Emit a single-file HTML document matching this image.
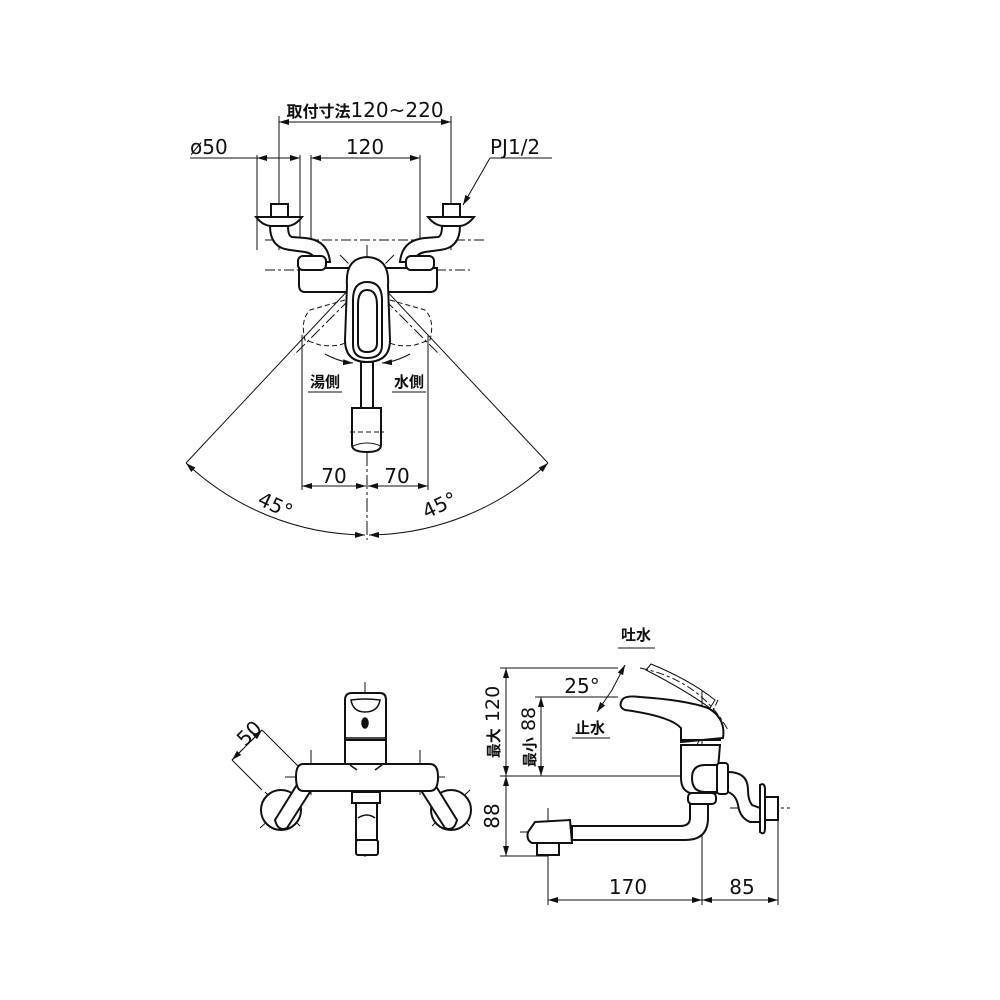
<!DOCTYPE html>
<html><head><meta charset="utf-8"><style>
html,body{margin:0;padding:0;background:#fff}
svg{display:block}
text{font-family:"DejaVu Sans","Liberation Sans","Noto Sans CJK JP",sans-serif;fill:#111}
</style></head><body>
<svg width="1000" height="1000" viewBox="0 0 1000 1000" xmlns="http://www.w3.org/2000/svg">
<defs>
<marker id="a" viewBox="0 0 10 6" refX="10" refY="3" markerWidth="10" markerHeight="6" orient="auto-start-reverse" markerUnits="userSpaceOnUse"><path d="M0,0 L10,3 L0,6z" fill="#111"/></marker>
</defs>
<g stroke="#111" stroke-width="1" fill="none">
<line x1="279" y1="122" x2="451" y2="122" marker-start="url(#a)" marker-end="url(#a)"/>
<line x1="279" y1="116" x2="279" y2="250"/>
<line x1="451" y1="116" x2="451" y2="250"/>
<line x1="190" y1="158" x2="300" y2="158"/>
<line x1="257" y1="158" x2="279" y2="158" marker-start="url(#a)"/>
<line x1="279" y1="158" x2="300" y2="158" marker-end="url(#a)"/>
<line x1="257" y1="155" x2="257" y2="250"/>
<line x1="300" y1="155" x2="300" y2="250"/>
<line x1="311" y1="158" x2="420" y2="158" marker-start="url(#a)" marker-end="url(#a)"/>
<line x1="311" y1="155" x2="311" y2="290"/>
<line x1="420" y1="155" x2="420" y2="290"/>
<line x1="490" y1="158" x2="552" y2="158"/>
<line x1="490" y1="158" x2="463" y2="205" marker-end="url(#a)"/>
<line x1="367" y1="245" x2="367" y2="540" stroke-dasharray="14,3,3,3"/>
<line x1="265" y1="240" x2="485" y2="240" stroke-dasharray="10,3,3,3"/>
<line x1="265" y1="270" x2="470" y2="270" stroke-dasharray="10,3,3,3"/>
<line x1="340" y1="255" x2="440" y2="355" stroke-dasharray="12,3,3,3"/>
<line x1="394" y1="255" x2="294" y2="355" stroke-dasharray="12,3,3,3"/>
<line x1="367" y1="270" x2="186" y2="463"/>
<line x1="367" y1="270" x2="548" y2="463"/>
<path d="M186,463 A265,265 0 0 0 365,535" marker-start="url(#a)" marker-end="url(#a)"/>
<path d="M548,463 A265,265 0 0 1 369,535" marker-start="url(#a)" marker-end="url(#a)"/>
<line x1="302" y1="335" x2="302" y2="490"/>
<line x1="428" y1="335" x2="428" y2="490"/>
<line x1="302" y1="486" x2="366" y2="486" marker-start="url(#a)" marker-end="url(#a)"/>
<line x1="368" y1="486" x2="428" y2="486" marker-start="url(#a)" marker-end="url(#a)"/>
<line x1="308" y1="392" x2="342" y2="392"/>
<line x1="392" y1="392" x2="426" y2="392"/>
<path d="M325,354 Q340,362 353,363" marker-end="url(#a)"/>
<path d="M410,354 Q395,362 382,363" marker-end="url(#a)"/>
<path d="M345,300 L310,310 Q300,320 305,340 L320,345 Q340,348 350,340" stroke-dasharray="5,3"/>
<path d="M390,300 L425,310 Q435,320 430,340 L415,345 Q395,348 385,340" stroke-dasharray="5,3"/>
</g>
<g stroke="#111" stroke-width="2" fill="#fff">
<path d="M256,217 L302,217 Q295,226 287,226 L272,226 Q263,226 256,217z"/>
<rect x="271" y="204" width="17" height="13"/>
<path d="M428,217 L474,217 Q467,226 459,226 L444,226 Q435,226 428,217z"/>
<rect x="443" y="204" width="17" height="13"/>
<path d="M270,226 Q270,248 290,250 L305,252 Q315,254 316,262 L330,262 Q328,240 305,238 L292,237 Q288,236 288,226z"/>
<path d="M460,226 Q460,248 440,250 L425,252 Q415,254 414,262 L400,262 Q402,240 425,238 L438,237 Q442,236 442,226z"/>
<path d="M299,268 L437,268 L437,285 Q437,292 430,292 L305,292 Q299,292 299,285z"/>
<rect x="298" y="256" width="28" height="14" rx="5"/>
<rect x="406" y="256" width="28" height="14" rx="5"/>
<path d="M347,285 Q345,258 367,257 Q390,258 388,285 L390,340 Q390,362 367,362 Q345,362 345,340z"/>
<path d="M353,300 Q353,282 367,282 Q382,282 382,300 L382,345 Q382,358 367,358 Q353,358 353,345z"/>
<path d="M358,305 Q358,290 367,290 Q377,290 377,305 L377,343 Q377,352 367,352 Q358,352 358,343z"/>
<rect x="361" y="362" width="12" height="46"/>
<path d="M352,408 L381,408 L381,445 Q381,452 367,452 Q352,452 352,445z"/>
</g>
<g stroke="#111" stroke-width="1" fill="none">
<line x1="350" y1="432" x2="384" y2="432" stroke-dasharray="5,3"/>
<path d="M353,446 Q367,440 381,446"/>
</g>
<g>
<text x="365" y="117" text-anchor="middle" font-size="16" font-weight="bold">取付寸法<tspan font-weight="normal" font-size="20">120~220</tspan></text>
<text x="190" y="154" font-size="20">ø50</text>
<text x="365" y="154" text-anchor="middle" font-size="20">120</text>
<text x="490" y="154" font-size="20">PJ1/2</text>
<text x="325" y="387" text-anchor="middle" font-size="15" font-weight="bold">湯側</text>
<text x="409" y="387" text-anchor="middle" font-size="15" font-weight="bold">水側</text>
<text x="334" y="483" text-anchor="middle" font-size="20">70</text>
<text x="397" y="483" text-anchor="middle" font-size="20">70</text>
<text x="275" y="512" text-anchor="middle" font-size="20" transform="rotate(25 275 506)">45°</text>
<text x="440" y="512" text-anchor="middle" font-size="20" transform="rotate(-25 440 506)">45°</text>
</g>

<!-- FRONT VIEW -->
<g stroke="#111" stroke-width="1" fill="none">
<line x1="365" y1="682" x2="365" y2="860" stroke-dasharray="14,3,3,3"/>
<line x1="285" y1="777" x2="445" y2="777" stroke-dasharray="10,3,3,3"/>
<line x1="311" y1="750" x2="311" y2="795"/>
<line x1="420" y1="750" x2="420" y2="795"/>
<line x1="265" y1="792" x2="300" y2="826"/>
<line x1="260" y1="828" x2="302" y2="790"/>
<line x1="435" y1="792" x2="470" y2="826"/>
<line x1="432" y1="826" x2="470" y2="790"/>
<line x1="262" y1="730" x2="300" y2="768"/>
<line x1="232" y1="760" x2="262" y2="790"/>
<line x1="262" y1="730" x2="232" y2="760"/>
<line x1="251" y1="741" x2="262" y2="730" marker-end="url(#a)"/>
<line x1="243" y1="749" x2="232" y2="760" marker-end="url(#a)"/>
</g>
<g stroke="#111" stroke-width="2" fill="#fff">
<circle cx="281" cy="810" r="20"/>
<circle cx="451" cy="810" r="20"/>
<path d="M275,820 L298,783 L310,792 L287,828 Q278,832 275,820z"/>
<path d="M457,820 L434,783 L422,792 L445,828 Q454,832 457,820z"/>
<path d="M345,765 L345,740 L386,740 L386,765z"/>
<path d="M345,740 L345,700 Q345,693 352,693 L380,693 Q386,693 386,700 L386,740z"/>
<path d="M303,764 L430,764 Q438,764 438,777 Q438,791 430,791 L303,791 Q296,791 296,777 Q296,764 303,764z"/>
<rect x="352" y="792" width="28" height="11"/>
<path d="M356,803 L377,803 L377,840 L356,840z"/>
<rect x="356" y="840" width="22" height="15" rx="2"/>
</g>
<g stroke="#111" stroke-width="1.5" fill="none">
<line x1="345" y1="738" x2="386" y2="738"/>
<path d="M351,700 Q365,698 380,700 Q378,712 365,712 Q353,712 351,700z"/>
<ellipse cx="365" cy="723" rx="3" ry="5" fill="#111"/>
<path d="M357,770 L350,765 M375,770 L382,765"/>
<path d="M358,818 Q367,812 375,818"/>
</g>
<text x="243" y="748" font-size="20" transform="rotate(-45 243 745)">50</text>

<!-- SIDE VIEW -->
<g stroke="#111" stroke-width="1" fill="none">
<line x1="500" y1="668" x2="618" y2="668"/>
<line x1="535" y1="697" x2="618" y2="697"/>
<line x1="500" y1="776" x2="735" y2="776"/>
<line x1="500" y1="856" x2="548" y2="856"/>
<line x1="506" y1="668" x2="506" y2="776" marker-start="url(#a)" marker-end="url(#a)"/>
<line x1="506" y1="776" x2="506" y2="856" marker-start="url(#a)" marker-end="url(#a)"/>
<line x1="541" y1="697" x2="541" y2="776" marker-start="url(#a)" marker-end="url(#a)"/>
<line x1="548" y1="808" x2="548" y2="905"/>
<line x1="702" y1="690" x2="702" y2="905"/>
<line x1="778" y1="805" x2="778" y2="905"/>
<line x1="548" y1="900" x2="702" y2="900" marker-start="url(#a)" marker-end="url(#a)"/>
<line x1="702" y1="900" x2="778" y2="900" marker-start="url(#a)" marker-end="url(#a)"/>
<line x1="618" y1="648" x2="655" y2="648"/>
<line x1="572" y1="738" x2="610" y2="738"/>
<line x1="612" y1="690" x2="625" y2="665" marker-end="url(#a)"/>
<line x1="612" y1="690" x2="597" y2="712" marker-end="url(#a)"/>
<line x1="520" y1="832" x2="580" y2="832" stroke-dasharray="10,3,3,3"/>
<line x1="730" y1="808" x2="790" y2="808" stroke-dasharray="10,3,3,3"/>
<path d="M646,670 L651,664 Q690,680 715,700 L710,708 Q685,690 646,670z"/>
<path d="M640,668 Q700,680 728,730" stroke-dasharray="8,3,3,3"/>
<line x1="718" y1="700" x2="690" y2="760" stroke-dasharray="6,3"/>
</g>
<g stroke="#111" stroke-width="2" fill="#fff">
<path d="M681,745 L681,778 Q681,790 690,793 L716,793 L720,745z"/>
<path d="M622,700 Q625,695 640,697 Q685,700 708,708 Q726,718 723,738 L681,742 L681,728 Q670,716 625,710 Q618,707 622,700z"/>
<line x1="681" y1="740" x2="721" y2="740"/>
<path d="M728,772 Q748,772 748,790 Q748,800 752,805 L760,808 L760,822 L750,822 Q740,818 738,805 Q736,795 728,792z"/>
<path d="M760,785 Q765,782 765,790 L765,828 Q765,836 760,832z"/>
<rect x="765" y="797" width="13" height="23"/>
<path d="M692,778 Q692,765 705,765 L718,765 L718,792 L705,792 Q692,792 692,778z"/>
<rect x="717" y="763" width="11" height="31" rx="3"/>
<rect x="688" y="793" width="28" height="11" rx="4"/>
<path d="M690,804 L690,818 Q690,826 680,826 L572,826 L572,840 L685,840 Q708,840 708,818 L708,804z"/>
<path d="M535,822 L570,820 L572,843 L532,843 Q526,840 528,832z"/>
<rect x="537" y="843" width="22" height="12"/>
</g>
<text x="636" y="640" text-anchor="middle" font-size="15" font-weight="bold">吐水</text>
<text x="590" y="733" text-anchor="middle" font-size="15" font-weight="bold">止水</text>
<text x="582" y="693" text-anchor="middle" font-size="20">25°</text>
<text x="628" y="894" text-anchor="middle" font-size="20">170</text>
<text x="742" y="894" text-anchor="middle" font-size="20">85</text>
<text x="0" y="0" font-size="19" transform="translate(499,722) rotate(-90)" text-anchor="middle"><tspan font-size="15" font-weight="bold">最大</tspan> 120</text>
<text x="0" y="0" font-size="19" transform="translate(535,737) rotate(-90)" text-anchor="middle"><tspan font-size="15" font-weight="bold">最小</tspan> 88</text>
<text x="0" y="0" font-size="20" transform="translate(499,816) rotate(-90)" text-anchor="middle">88</text>
</svg>
</body></html>
